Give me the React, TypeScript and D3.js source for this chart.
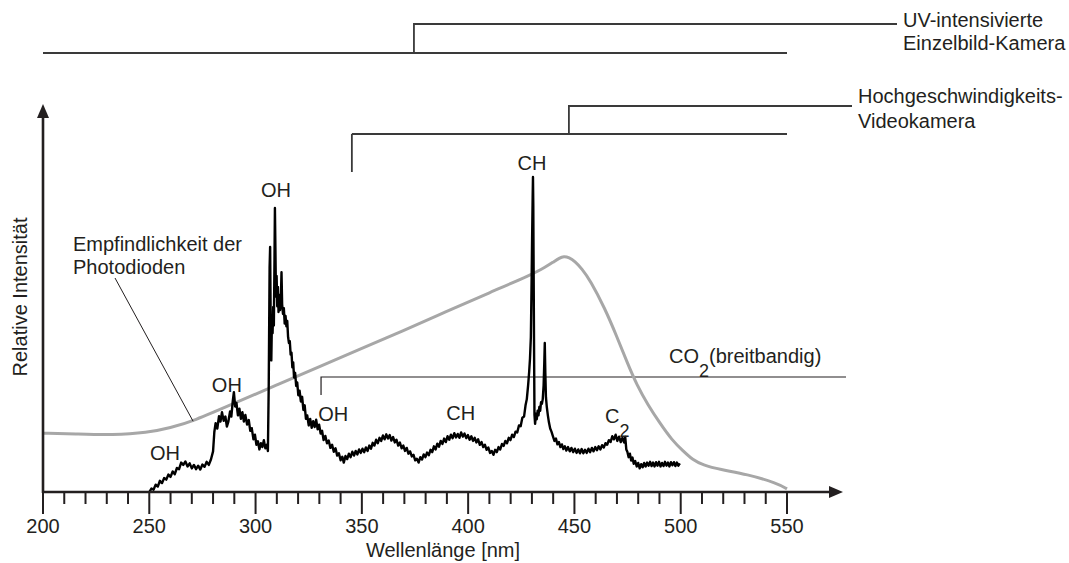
import React from "react";
import * as d3 from "d3";

// ---------- data ----------
const majorTicks = [200, 250, 300, 350, 400, 450, 500, 550];
const minorTicks = [210, 220, 230, 240, 260, 270, 280, 290, 310, 320, 330, 340, 360, 370, 380, 390, 410, 420, 430, 440, 460, 470, 480, 490, 510, 520, 530, 540];

// photodiode sensitivity (grey curve): [wavelength nm, relative]
const sensitivity: [number, number][] = [
  [200, 15.2], [215, 15.0], [233, 14.7], [249, 15.3], [260, 16.6], [270.6, 18.3],
  [290, 22.9], [310, 27.7], [330, 32.4], [353.8, 38.0], [367.9, 41.3], [390, 46.7],
  [410, 51.5], [430, 56.2], [436, 58.0], [440, 59.4], [443, 60.5], [445, 60.9],
  [447.5, 60.6], [450.2, 59.6], [453.5, 57.7], [457.3, 54.8], [464.3, 47.5], [470, 40.1],
  [474.7, 33.6], [479.4, 27.6], [484.6, 22.5], [490.2, 17.8], [495.9, 13.4], [501.1, 10.6],
  [505.7, 8.3], [510.4, 7.0], [518.4, 5.8], [531.1, 4.6], [545.3, 2.3], [550, 0.8],
];

// emission spectrum (black trace): [wavelength nm, relative intensity]
const spectrum: [number, number][] = [
  [250, 0], [251, 0.9], [252, 0.6], [253, 1.9], [254, 1.4], [255, 2.9], [256, 2.3], [257, 3.6],
  [258, 3.2], [259, 4.5], [260, 3.9], [261, 5.3], [262, 4.6], [263, 6.2], [264, 5.9], [265, 7.6],
  [266, 7.0], [267, 7.9], [268, 6.6], [269, 7.4], [270, 6.1], [271, 7.0], [272, 5.9], [273, 6.8],
  [274, 5.8], [275, 7.1], [276, 6.5], [277, 7.8], [278, 7.0], [279, 8.4], [280, 10.5], [280.6, 15.5],
  [281.2, 17.8], [282, 16.4], [282.8, 19.6], [283.5, 18.2], [284.2, 20.6], [285, 18.4], [285.8, 19.5],
  [286.5, 16.9], [287.2, 18.2], [288, 20.8], [288.6, 19.5], [289.3, 23.6], [289.8, 25.8], [290.4, 22.1],
  [291, 23.0], [291.7, 19.8], [292.4, 21.5], [293.1, 18.9], [293.8, 20.6], [294.5, 18.2], [295.2, 19.9],
  [296, 17.4], [296.8, 18.6], [297.5, 15.8], [298.2, 16.5], [299, 13.6], [299.7, 14.8], [300.4, 12.2],
  [301.1, 13.1], [301.8, 11.0], [302.5, 12.6], [303.2, 11.6], [303.9, 13.4], [304.6, 11.3], [305.3, 12.2],
  [305.8, 10.6], [306.2, 28.0], [306.6, 58.0], [306.85, 63.3], [307.1, 45.0], [307.4, 34.0], [307.7, 44.5],
  [308.0, 41.0], [308.3, 47.8], [308.6, 43.0], [308.9, 60.0], [309.1, 73.4], [309.35, 62.0], [309.6, 50.5],
  [309.9, 55.8], [310.2, 48.0], [310.5, 53.0], [310.8, 46.5], [311.1, 51.0], [311.5, 47.0], [311.9, 50.0],
  [312.2, 56.8], [312.5, 48.5], [312.9, 46.0], [313.3, 47.5], [313.7, 43.5], [314.1, 45.5], [314.5, 42.8],
  [314.9, 44.2], [315.3, 40.0], [315.7, 38.5], [316.1, 39.0], [316.5, 35.5], [316.9, 36.0], [317.3, 32.2],
  [317.7, 33.5], [318.1, 29.6], [318.6, 30.8], [319.1, 27.4], [319.6, 28.3], [320.1, 25.0], [320.7, 26.2],
  [321.3, 23.4], [321.9, 24.6], [322.5, 21.2], [323.1, 22.4], [323.7, 18.9], [324.3, 19.8], [325, 17.2],
  [325.7, 18.9], [326.4, 16.6], [327.1, 18.3], [327.8, 16.8], [328.5, 18.7], [329.2, 16.2], [329.9, 17.4],
  [330.6, 15.1], [331.3, 15.8], [332, 13.4], [332.8, 14.5], [333.6, 12.6], [334.4, 13.3], [335.2, 11.4],
  [336, 12.2], [336.8, 10.4], [337.6, 11.3], [338.4, 9.4], [339.2, 10.0], [340, 8.2], [340.8, 9.1],
  [341.5, 7.6], [342.3, 9.3], [343.1, 8.5], [343.9, 9.9], [344.7, 9.0], [345.5, 10.4], [346.3, 9.4],
  [347.1, 10.6], [347.9, 9.7], [348.7, 11.0], [349.5, 10.1], [350.3, 11.2], [351.1, 10.3], [351.9, 11.5],
  [352.7, 10.6], [353.5, 12.0], [354.3, 11.2], [355.1, 12.7], [355.9, 12.0], [356.7, 13.5], [357.5, 12.6],
  [358.3, 14.0], [359.1, 13.2], [359.9, 14.6], [360.7, 13.6], [361.5, 14.9], [362.3, 13.8], [363.1, 14.7],
  [363.9, 13.3], [364.7, 14.2], [365.5, 12.8], [366.3, 13.5], [367.1, 12.0], [367.9, 12.8], [368.7, 11.3],
  [369.5, 12.0], [370.3, 10.6], [371.1, 11.4], [371.9, 9.9], [372.7, 10.5], [373.5, 9.2], [374.3, 9.6],
  [375.1, 8.2], [375.9, 8.6], [376.7, 7.6], [377.5, 9.0], [378.3, 8.4], [379.1, 9.7], [379.9, 9.0],
  [380.7, 10.2], [381.5, 9.5], [382.3, 10.9], [383.1, 10.3], [383.9, 11.8], [384.7, 11.0], [385.5, 12.5],
  [386.3, 11.7], [387.1, 13.2], [387.9, 12.4], [388.7, 13.8], [389.5, 12.9], [390.3, 14.4], [391.1, 13.5],
  [391.9, 14.8], [392.7, 13.9], [393.5, 15.2], [394.3, 14.1], [395.1, 15.0], [395.9, 14.0], [396.7, 15.4],
  [397.5, 14.3], [398.3, 15.1], [399.1, 13.9], [399.9, 14.7], [400.7, 13.5], [401.5, 14.4], [402.3, 13.2],
  [403.1, 14.0], [403.9, 12.8], [404.7, 13.6], [405.5, 12.2], [406.3, 12.9], [407.1, 11.6], [407.9, 12.2],
  [408.7, 10.9], [409.5, 11.5], [410.3, 10.1], [411.1, 10.6], [411.9, 9.6], [412.7, 10.9], [413.5, 10.3],
  [414.3, 11.6], [415.1, 11.0], [415.9, 12.4], [416.7, 11.9], [417.5, 13.2], [418.3, 12.6], [419.1, 14.0],
  [419.9, 13.4], [420.7, 14.8], [421.5, 14.2], [422.3, 15.6], [423.1, 15.4], [423.9, 17.2], [424.7, 17.0],
  [425.5, 19.2], [426.3, 19.5], [427.0, 22.4], [427.6, 24.0], [428.2, 27.5], [428.7, 31.0], [429.1, 34.5],
  [429.5, 40.0], [429.8, 52.0], [430.1, 66.0], [430.35, 76.0], [430.5, 81.4], [430.65, 74.0], [430.8, 58.0],
  [431.0, 38.0], [431.2, 20.0], [431.5, 17.6], [431.9, 20.2], [432.3, 18.8], [432.7, 21.0], [433.1, 19.8],
  [433.5, 22.0], [433.9, 21.0], [434.3, 23.2], [434.7, 22.8], [435.1, 24.0], [435.5, 27.5], [435.8, 33.0],
  [436.05, 38.5], [436.3, 31.0], [436.6, 24.5], [437.0, 22.0], [437.5, 19.8], [438.0, 18.0], [438.6, 16.4],
  [439.2, 15.6], [439.9, 14.4], [440.6, 13.2], [441.3, 13.8], [442, 12.3], [442.7, 12.9], [443.4, 11.6],
  [444.1, 12.3], [444.8, 11.1], [445.5, 11.8], [446.2, 10.7], [447, 11.6], [447.8, 10.5], [448.6, 11.4],
  [449.4, 10.3], [450.2, 11.2], [451, 10.1], [451.8, 11.0], [452.6, 10.0], [453.4, 11.1], [454.2, 10.0],
  [455, 10.9], [455.8, 10.1], [456.6, 11.2], [457.4, 10.3], [458.2, 11.4], [459, 10.5], [459.8, 11.6],
  [460.6, 10.8], [461.4, 11.8], [462.2, 11.0], [463, 12.1], [463.8, 11.5], [464.6, 12.6], [465.4, 12.2],
  [466.2, 13.4], [467, 12.9], [467.8, 14.4], [468.6, 13.6], [469.4, 14.8], [470.2, 13.2], [471, 14.3],
  [471.8, 12.9], [472.6, 14.0], [473.4, 12.8], [473.9, 14.2], [474.4, 11.0], [474.9, 10.4], [475.5, 9.0],
  [476.1, 9.9], [476.7, 8.1], [477.3, 8.9], [477.9, 7.3], [478.6, 8.0], [479.3, 6.6], [480, 7.5],
  [480.7, 6.1], [481.4, 7.2], [482.1, 6.4], [482.8, 7.5], [483.5, 6.6], [484.2, 7.6], [484.9, 6.8],
  [485.6, 7.8], [486.3, 6.7], [487, 7.6], [487.7, 6.6], [488.4, 7.7], [489.1, 6.8], [489.8, 7.8],
  [490.5, 6.6], [491.2, 7.5], [491.9, 6.7], [492.6, 7.8], [493.3, 6.8], [494, 7.6], [494.7, 6.6],
  [495.4, 7.7], [496.1, 6.9], [496.8, 7.7], [497.5, 6.7], [498.2, 7.6], [498.9, 6.8], [499.6, 7.4],
];

// peak labels: [text, wavelength of label centre, baseline y]
const peakLabels: [string, number, number][] = [
  ["OH", 257.4, 460],
  ["OH", 286.5, 392],
  ["OH", 309.6, 197],
  ["OH", 336.5, 421],
  ["CH", 396.5, 420],
  ["CH", 430.0, 170],
];

// ---------- layout ----------
const W = 1069;
const H = 563;
const X0 = 43;
const Y0 = 492;
const FONT = "'Liberation Sans', Arial, Helvetica, sans-serif";
const TEXT = "#231f20";

const x = d3.scaleLinear().domain([200, 550]).range([X0, 787]);
const y = d3.scaleLinear().domain([0, 100]).range([Y0, 105]);

export default function App() {
  const specPath = d3
    .line<[number, number]>()
    .x((d) => x(d[0]))
    .y((d) => y(d[1]))
    .curve(d3.curveLinear)(spectrum) as string;

  const sensPath = d3
    .line<[number, number]>()
    .x((d) => x(d[0]))
    .y((d) => y(d[1]))
    .curve(d3.curveBasis)(sensitivity) as string;

  const fs = 20;
  return (
    <svg
      width={W}
      height={H}
      style={{ position: "absolute", left: 0, top: 0, background: "#fff" }}
      fontFamily={FONT}
      fontSize={fs}
      fill={TEXT}
    >
      {/* top brackets: UV camera */}
      <g stroke="#3a3a3a" strokeWidth={1.8} fill="none">
        <line x1={x(200)} x2={x(550)} y1={53} y2={53} />
        <polyline points={`${x(374.5)},53 ${x(374.5)},24 897,24`} />
        {/* high speed video camera */}
        <line x1={x(345.3)} x2={x(550)} y1={134} y2={134} />
        <line x1={x(345.3)} x2={x(345.3)} y1={134} y2={172} />
        <polyline points={`${x(447.4)},134 ${x(447.4)},106 852,106`} />
      </g>
      <text x={903} y={27}>UV-intensivierte</text>
      <text x={903} y={50}>Einzelbild-Kamera</text>
      <text x={858} y={103}>Hochgeschwindigkeits-</text>
      <text x={858} y={128}>Videokamera</text>

      {/* CO2 bracket */}
      <g stroke="#231f20" strokeWidth={1.2} fill="none">
        <polyline points={`${x(330.8)},395 ${x(330.8)},377 846,377`} />
      </g>
      <text x={669} y={363}>
        CO
        <tspan fontSize={18} dy={14}>2</tspan>
        <tspan dy={-14}>(breitbandig)</tspan>
      </text>

      {/* sensitivity curve */}
      <path d={sensPath} fill="none" stroke="#a7a7a7" strokeWidth={3} strokeLinejoin="round" />

      {/* spectrum */}
      <path d={specPath} fill="none" stroke="#000" strokeWidth={2.4} strokeLinejoin="round" />

      {/* leader line */}
      <line x1={115} y1={278} x2={x(270.6)} y2={y(18.3)} stroke="#231f20" strokeWidth={1} />
      <text x={73} y={251}>Empfindlichkeit der</text>
      <text x={73} y={274}>Photodioden</text>

      {/* peak labels */}
      {peakLabels.map(([t, wl, by], i) => (
        <text key={i} x={x(wl)} y={by} textAnchor="middle">
          {t}
        </text>
      ))}
      <text x={605} y={423}>
        C
        <tspan fontSize={18} dy={14}>2</tspan>
      </text>

      {/* axes */}
      <g stroke="#231f20" fill="none">
        <line x1={X0} x2={830} y1={Y0} y2={Y0} strokeWidth={2.6} />
        <line x1={X0} x2={X0} y1={Y0 + 1} y2={117} strokeWidth={2.6} />
        {majorTicks.map((t) => (
          <line key={"M" + t} x1={x(t)} x2={x(t)} y1={Y0} y2={Y0 + 22} strokeWidth={2} />
        ))}
        {minorTicks.map((t) => (
          <line key={"m" + t} x1={x(t)} x2={x(t)} y1={Y0} y2={Y0 + 12} strokeWidth={2} />
        ))}
      </g>
      <polygon points={`843,${Y0} 829,${Y0 - 6} 829,${Y0 + 6}`} fill="#231f20" />
      <polygon points={`${X0},104 ${X0 - 6},118 ${X0 + 6},118`} fill="#231f20" />

      {majorTicks.map((t) => (
        <text key={"l" + t} x={x(t)} y={533} textAnchor="middle">
          {t}
        </text>
      ))}
      <text x={443} y={557} textAnchor="middle">
        Wellenlänge [nm]
      </text>
      <text transform="translate(27,297) rotate(-90)" textAnchor="middle">
        Relative Intensität
      </text>
    </svg>
  );
}
